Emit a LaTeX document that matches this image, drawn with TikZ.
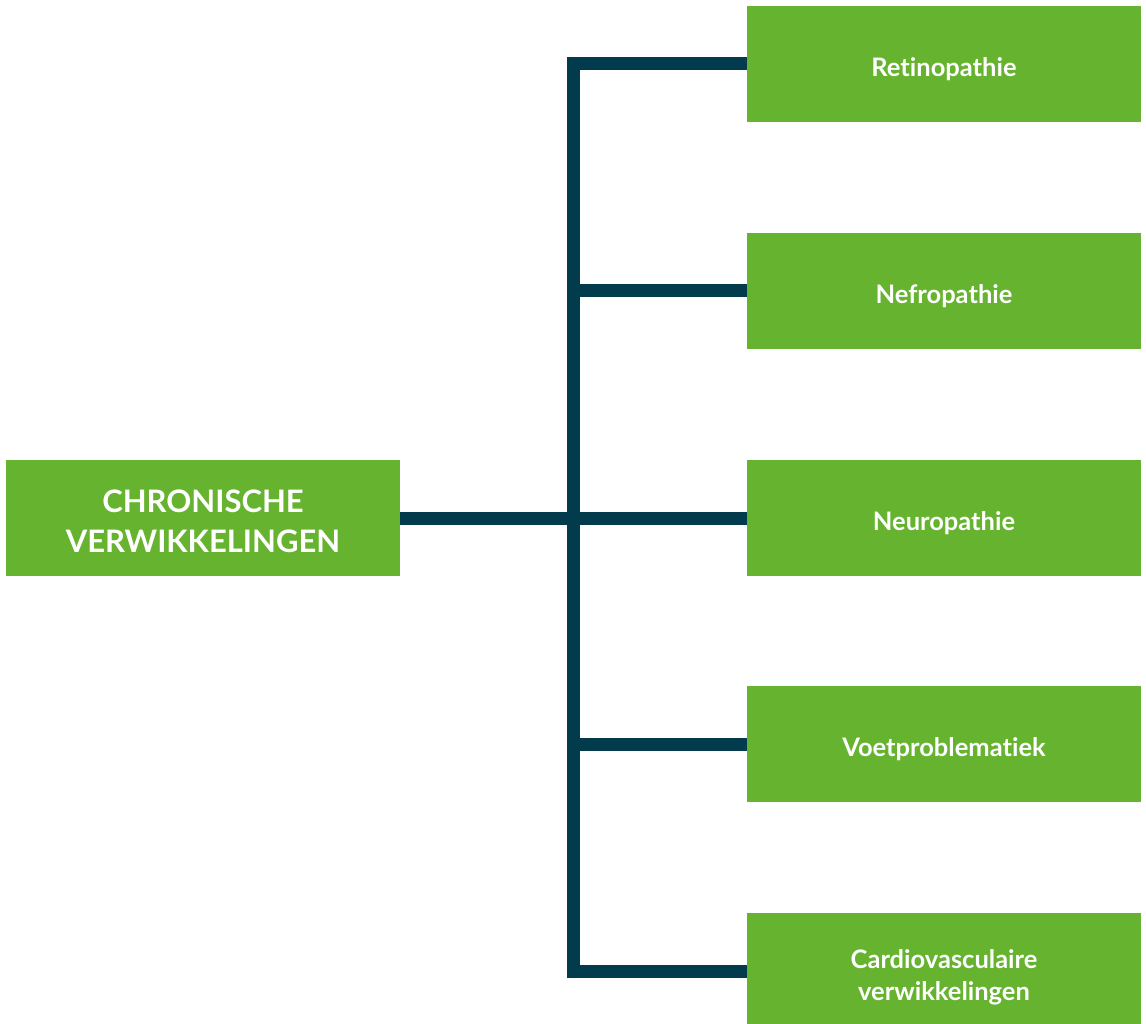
\documentclass[tikz,border=0pt]{standalone}
\usepackage{fontspec}
\setmainfont[Ligatures=NoCommon]{Lato}
\definecolor{boxgreen}{RGB}{101,179,46}
\definecolor{linkteal}{RGB}{2,59,75}
\begin{document}
\begin{tikzpicture}[x=1pt,y=-1pt,
  leafbox/.style={fill=boxgreen,draw=none,minimum width=394pt,minimum height=116pt,inner sep=0pt,
    text=white,font=\fontsize{25.5}{32}\selectfont\bfseries,align=center,text height=25pt,text depth=0pt},
  twoline/.style={text height=58pt},
  rootbox/.style={leafbox,font=\fontsize{31}{40}\selectfont\bfseries,text height=68pt},
  link/.style={draw=linkteal,line width=13pt,line join=miter}]
\useasboundingbox (0,0) rectangle (1146,1024);
\begin{scope}
\clip (0,0) rectangle (1146,1024);
\node[rootbox] (c) at (203,518) {CHRONISCHE\\VERWIKKELINGEN};
\node[leafbox] (r1) at (944,64) {Retinopathie};
\node[leafbox] (r2) at (944,291) {Nefropathie};
\node[leafbox] (r3) at (944,518) {Neuropathie};
\node[leafbox] (r4) at (944,744) {Voetproblematiek};
\node[leafbox,twoline] (r5) at (944,971) {Cardiovasculaire\\verwikkelingen};
\end{scope}
\coordinate (tb) at (573.5,971);
\draw[link] (r1.west) -| (tb) -- (r5.west);
\draw[link] (c.east) -- (r3.west);
\draw[link] (r2.west) -- (r2.west -| tb);
\draw[link] (r4.west) -- (r4.west -| tb);
\end{tikzpicture}
\end{document}
